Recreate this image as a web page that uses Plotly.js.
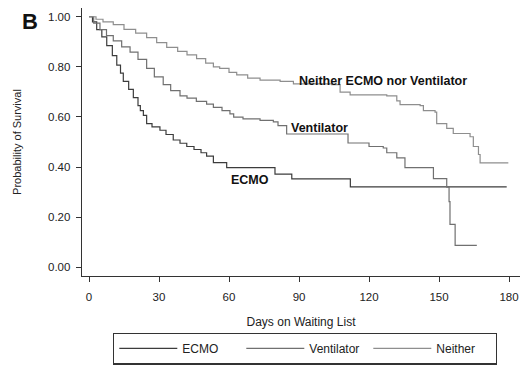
<!DOCTYPE html>
<html>
<head>
<meta charset="utf-8">
<script src="https://cdn.plot.ly/plotly-3.0.1.min.js"></script>
<style>html,body{margin:0;padding:0;background:#fff;}#chart{width:522px;height:366px;}</style>
</head>
<body>
<div id="chart"></div>
<script>
// Kaplan-Meier survival estimates
const ecmoDays = [0, 1.5, 3.3, 5.5, 7.6, 10, 11.9, 13.5, 14.7, 17, 19, 21, 22, 23.3, 24.7, 27, 30.4, 33, 36.1, 39, 41.9, 45, 48, 50.4, 53.3, 59, 79.7, 86.9, 112, 179];
const ecmoSurv = [1.0, 0.98, 0.949, 0.92, 0.885, 0.845, 0.807, 0.775, 0.742, 0.71, 0.677, 0.645, 0.625, 0.606, 0.573, 0.56, 0.547, 0.53, 0.508, 0.495, 0.482, 0.47, 0.457, 0.444, 0.418, 0.398, 0.372, 0.353, 0.321, 0.321];

const ventDays = [0, 2, 4.7, 7.5, 10.4, 14, 17.6, 21, 24.7, 28, 31.8, 35, 39, 42, 46, 50.4, 53.3, 57, 60.4, 62, 66, 73.3, 79, 81, 84.7, 111, 120, 126.1, 127.6, 131.9, 135.4, 147.6, 153.3, 154.3, 154.7, 156.9, 166.2];
const ventSurv = [1.0, 0.975, 0.949, 0.925, 0.904, 0.88, 0.859, 0.83, 0.794, 0.76, 0.729, 0.705, 0.684, 0.675, 0.662, 0.651, 0.638, 0.625, 0.612, 0.599, 0.592, 0.586, 0.58, 0.565, 0.532, 0.496, 0.482, 0.476, 0.457, 0.437, 0.398, 0.354, 0.32, 0.262, 0.171, 0.087, 0.087];

const neitherDays = [0, 3, 6, 10.4, 15, 20, 24.7, 29, 33.3, 38, 42, 46.1, 50, 53.3, 56, 60, 63.3, 68, 73.3, 81.9, 87.6, 104, 107.6, 111.9, 127.6, 131.9, 133.3, 141.9, 143.3, 148.3, 149, 153.3, 156.1, 163.3, 164.7, 166.9, 167.6, 179.7];
const neitherSurv = [1.0, 0.99, 0.98, 0.969, 0.95, 0.935, 0.917, 0.897, 0.878, 0.862, 0.848, 0.833, 0.815, 0.8, 0.794, 0.778, 0.768, 0.755, 0.747, 0.742, 0.732, 0.729, 0.699, 0.688, 0.684, 0.664, 0.649, 0.645, 0.625, 0.619, 0.573, 0.554, 0.534, 0.521, 0.482, 0.45, 0.417, 0.417];

const seriesNames = ['ECMO', 'Ventilator', 'Neither'];
const xTicks = [0, 30, 60, 90, 120, 150, 180];
const yTicks = [0, 0.2, 0.4, 0.6, 0.8, 1.0];

const FONT = 'Liberation Sans, Arial, sans-serif';
const mk = (x, y, name, color) => ({
  x: x, y: y, name: name, type: 'scatter', mode: 'lines',
  line: {shape: 'hv', color: color, width: 1.2},
  hoverinfo: 'skip'
});

const data = [
  mk(ecmoDays, ecmoSurv, seriesNames[0], '#3c3c3c'),
  mk(ventDays, ventSurv, seriesNames[1], '#707070'),
  mk(neitherDays, neitherSurv, seriesNames[2], '#8e8e8e')
];

const PL = 82, PW = 438, PT = 8, PH = 275;
const layout = {
  width: 522, height: 366,
  margin: {l: PL, r: 2, t: PT, b: 83},
  paper_bgcolor: '#fff', plot_bgcolor: '#fff',
  font: {family: FONT, size: 11, color: '#222'},
  showlegend: true,
  xaxis: {
    range: [-3, 184.7], tickvals: xTicks, ticktext: xTicks.map(String),
    showgrid: false, zeroline: false, showline: true, linecolor: '#333', linewidth: 1.3,
    ticks: 'outside', ticklen: 5, tickcolor: '#333', automargin: false, ticklabelstandoff: 5,
    tickfont: {family: FONT, size: 11.5, color: '#222'},
    title: {text: 'Days on Waiting List', font: {family: FONT, size: 12, color: '#222'}, standoff: 15}
  },
  yaxis: {
    range: [-0.035, 1.035], tickvals: yTicks, ticktext: yTicks.map(v => v.toFixed(2)),
    showgrid: false, zeroline: false, showline: true, linecolor: '#333', linewidth: 1.3,
    ticks: 'outside', ticklen: 5, tickcolor: '#333', automargin: false, ticklabelstandoff: 3,
    tickfont: {family: FONT, size: 11.5, color: '#222'},
    title: {text: 'Probability of Survival', font: {family: FONT, size: 11, color: '#222'}, standoff: 24}
  },
  legend: {
    orientation: 'h', x: (113 - PL) / PW, xanchor: 'left', y: (PT + PH - 341) / PH, yanchor: 'top',
    bordercolor: '#333', borderwidth: 1.3, bgcolor: '#fff',
    font: {family: FONT, size: 12, color: '#222'},
    itemwidth: 58, entrywidth: 54, tracegroupgap: 0
  },
  annotations: [
    {x: 126, y: 0.745, xref: 'x', yref: 'y', text: '<b>Neither ECMO nor Ventilator</b>', showarrow: false, font: {family: FONT, size: 12.5, color: '#111'}},
    {x: 98.6, y: 0.555, xref: 'x', yref: 'y', text: '<b>Ventilator</b>', showarrow: false, font: {family: FONT, size: 12.5, color: '#111'}},
    {x: 69, y: 0.35, xref: 'x', yref: 'y', text: '<b>ECMO</b>', showarrow: false, font: {family: FONT, size: 12.5, color: '#111'}},
    {x: (30 - PL) / PW, y: (PT + PH - 22) / PH, xref: 'paper', yref: 'paper', xanchor: 'center', yanchor: 'middle', text: '<b>B</b>', showarrow: false, font: {family: FONT, size: 22, color: '#111'}}
  ]
};

Plotly.newPlot('chart', data, layout, {displayModeBar: false, staticPlot: true});
</script>
</body>
</html>
